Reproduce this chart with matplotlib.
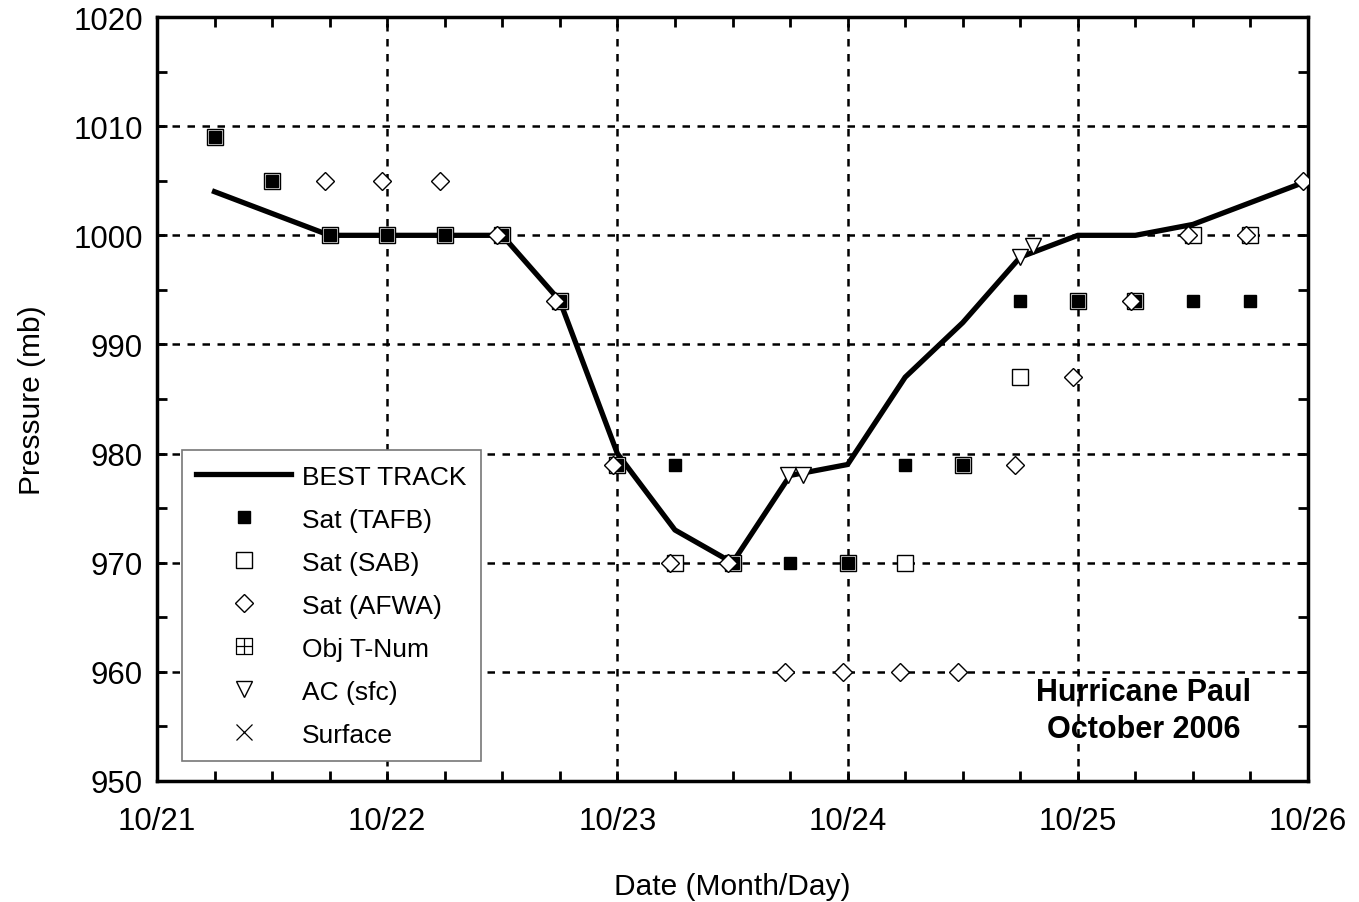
import matplotlib.pyplot as plt
import numpy as np
from matplotlib.path import Path

plt.rcParams['font.family'] = ['Liberation Sans', 'DejaVu Sans']

# times are hours after 10/21 00Z
bt_hours = [6, 12, 18, 24, 30, 36, 42, 48, 54, 60, 66, 72, 78, 84, 90, 96, 102, 108, 114, 120]
bt_mb = [1004, 1002, 1000, 1000, 1000, 1000, 994, 980, 973, 970, 978, 979, 987, 992, 998,
         1000, 1000, 1001, 1003, 1005]

tafb_hours = [6, 12, 18, 24, 30, 36, 42, 48, 54, 60, 66, 72, 78, 84, 90, 96, 102, 108, 114]
tafb_mb = [1009, 1005, 1000, 1000, 1000, 1000, 994, 979, 979, 970, 970, 970, 979, 979, 994,
           994, 994, 994, 994]

sab_hours = [6, 12, 18, 24, 30, 36, 42, 48, 54, 60, 72, 78, 84, 90, 96, 102, 108, 114]
sab_mb = [1009, 1005, 1000, 1000, 1000, 1000, 994, 979, 970, 970, 970, 970, 979, 987, 994,
          994, 1000, 1000]

afwa_hours = [17.5, 23.5, 29.5, 35.5, 41.5, 47.5, 53.5, 59.5, 65.5, 71.5, 77.5, 83.5, 89.5,
              95.5, 101.5, 107.5, 113.5, 119.5]
afwa_mb = [1005, 1005, 1005, 1000, 994, 979, 970, 970, 960, 960, 960, 960, 979, 987, 994,
           1000, 1000, 1005]

objt_hours = []
objt_mb = []

ac_hours = [65.8, 67.3, 90.0, 91.3]
ac_mb = [978, 978, 998, 999]

sfc_hours = []
sfc_mb = []

day_labels = ['10/21', '10/22', '10/23', '10/24', '10/25', '10/26']


def days(h):
    return np.asarray(h, dtype=float) / 24.0


# square with a cross inside, for the objective T-number
box_cross = Path(
    [(-1, -1), (1, -1), (1, 1), (-1, 1), (-1, -1), (0, -1), (0, 1), (-1, 0), (1, 0)],
    [Path.MOVETO, Path.LINETO, Path.LINETO, Path.LINETO, Path.CLOSEPOLY,
     Path.MOVETO, Path.LINETO, Path.MOVETO, Path.LINETO])

fig = plt.figure(figsize=(13.59, 9.03), dpi=100)
ax = fig.add_axes([0.1155, 0.134, 0.847, 0.846])

ax.plot(days(bt_hours), bt_mb, color='black', lw=3.8, label='BEST TRACK', zorder=3)
ax.plot(days(sab_hours), sab_mb, ls='none', marker='s', ms=11, mfc='white', mec='black',
        mew=1.0, label='Sat (SAB)', zorder=4)
ax.plot(days(tafb_hours), tafb_mb, ls='none', marker='s', ms=8.5, mfc='black', mec='black',
        label='Sat (TAFB)', zorder=5)
ax.plot(days(afwa_hours), afwa_mb, ls='none', marker='D', ms=9.5, mfc='white', mec='black',
        mew=1.0, label='Sat (AFWA)', zorder=6)
ax.plot(days(objt_hours), objt_mb, ls='none', marker=box_cross, ms=11, mfc='none',
        mec='black', mew=0.9, label='Obj T-Num', zorder=6)
ax.plot(days(ac_hours), ac_mb, ls='none', marker='v', ms=12, mfc='white', mec='black',
        mew=1.0, label='AC (sfc)', zorder=7)
ax.plot(days(sfc_hours), sfc_mb, ls='none', marker='x', ms=11, color='black', mew=0.9,
        label='Surface', zorder=7)

ax.set_xlim(0, 5)
ax.set_ylim(950, 1020)
ax.set_xticks(np.arange(6))
ax.set_xticklabels(day_labels)
ax.set_xticks(np.arange(0, 5.01, 0.25), minor=True)
ax.set_yticks(np.arange(950, 1021, 10))
ax.set_yticks(np.arange(950, 1021, 5), minor=True)
ax.tick_params(which='both', direction='in', top=True, right=True, width=2, length=7,
               labelsize=22.5, color='black')
ax.tick_params(axis='x', which='both', pad=18)
ax.tick_params(axis='y', which='both', pad=10)
for s in ax.spines.values():
    s.set_linewidth(2.5)

ax.grid(which='major', color='black', ls=(0, (3, 3)), lw=1.8)

ax.set_xlabel('Date (Month/Day)', fontsize=21.5, labelpad=26)
ax.set_ylabel('Pressure (mb)', fontsize=21.5, labelpad=20)

ax.text(0.857, 0.092, 'Hurricane Paul\nOctober 2006', transform=ax.transAxes,
        ha='center', va='center', fontsize=22, fontweight='bold', linespacing=1.3)

handles, labels = ax.get_legend_handles_labels()
order = ['BEST TRACK', 'Sat (TAFB)', 'Sat (SAB)', 'Sat (AFWA)', 'Obj T-Num', 'AC (sfc)', 'Surface']
hmap = dict(zip(labels, handles))
leg = ax.legend([hmap[k] for k in order], order, loc='lower left',
                bbox_to_anchor=(0.0217, 0.026), borderaxespad=0, fontsize=19,
                handlelength=3.6, handletextpad=0.4, labelspacing=0.72,
                borderpad=0.55, fancybox=False, framealpha=1, edgecolor='#777777')
leg.get_frame().set_linewidth(1.2)

fig.savefig('out.png', dpi=100)
